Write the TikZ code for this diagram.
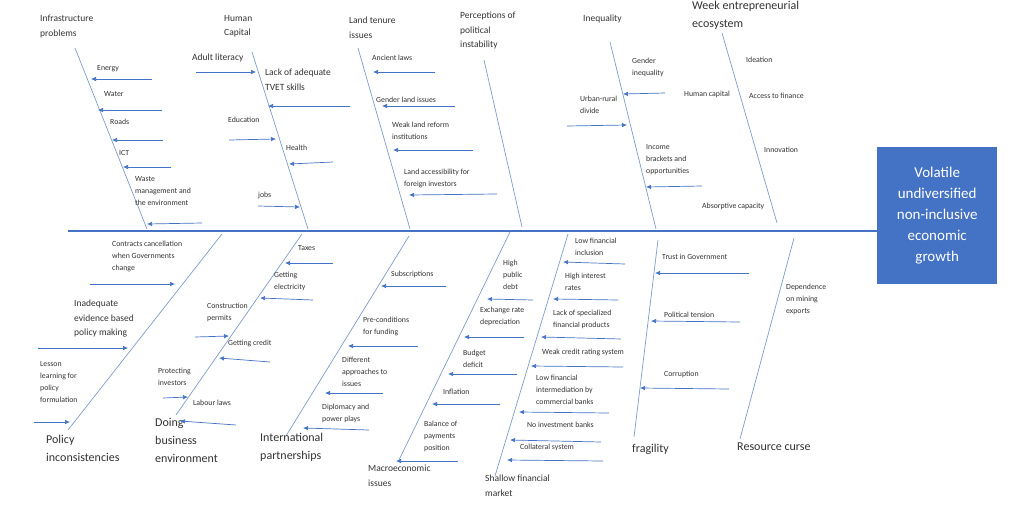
\documentclass[tikz,border=0pt]{standalone}
\usepackage{fontspec}
\setmainfont{Carlito}
\usetikzlibrary{arrows.meta}
\definecolor{bl}{HTML}{4472C4}
\definecolor{bone}{HTML}{7F9CCB}
\definecolor{tx}{HTML}{333333}
\newcommand\arr[3]{\coordinate (#1s) at #2; \coordinate (#1e) at #3; \draw[sub] (#1s) -- (#1e);}
\newcommand\bn[3]{\coordinate (#1a) at #2; \coordinate (#1b) at #3; \draw[bonel] (#1a) -- (#1b);}
\begin{document}
\begin{tikzpicture}[x=1pt,y=-1pt,
  sub/.style={draw=bl,line width=0.7pt,-{Latex[length=5pt,width=4.5pt]}},
  bonel/.style={draw=bone,line width=0.7pt},
  s/.style={anchor=north west,font=\fontsize{7.8}{12}\selectfont,text=tx,inner sep=0,align=left},
  m/.style={anchor=north west,font=\fontsize{9.5}{14.5}\selectfont,text=tx,inner sep=0,align=left},
  L/.style={anchor=north west,font=\fontsize{12}{18}\selectfont,text=tx,inner sep=0,align=left}]
\useasboundingbox[fill=white] (0,0) rectangle (1024,514);
% spine and box
\node[fill=bl,minimum width=120pt,minimum height=137pt,anchor=north west,inner sep=0,text=white,align=center,font=\fontsize{15}{21}\selectfont] (eff) at (877,147) {Volatile\\undiversified\\non-inclusive\\economic\\growth};
\coordinate (sp) at (68,231);
\draw[bl,line width=2.5pt] (sp) -- (eff.west|-sp);
% 1 Infrastructure
\bn{b1}{(75,48)}{(147,229)}
\node[m] (c1) at (40,15) {Infrastructure\\problems};
\node[s] (t11) at (97,65) {Energy}; \arr{a11}{(152,79)}{(91,79)}
\node[s] (t12) at (104,91) {Water}; \arr{a12}{(162,110)}{(98,110)}
\node[s] (t13) at (110,119) {Roads}; \arr{a13}{(163,140)}{(112,140)}
\node[s] (t14) at (119,150) {ICT}; \arr{a14}{(171,167)}{(123,167)}
\node[s] (t15) at (135,176) {Waste\\management and\\the environment}; \arr{a15}{(202,223)}{(147,224)}
% 2 Human capital
\bn{b2}{(252,52)}{(308,229)}
\node[m] (c2) at (224,15) {Human\\Capital};
\node[m] (t21) at (192,54) {Adult literacy}; \arr{a21}{(196,72)}{(256,72)}
\node[m] (t22) at (265,69) {Lack of adequate\\TVET skills}; \arr{a22}{(350,106)}{(268,106)}
\node[s] (t23) at (228,117) {Education}; \arr{a23}{(229,140)}{(276,139)}
\node[s] (t24) at (286,145) {Health}; \arr{a24}{(333,162)}{(289,164)}
\node[s] (t25) at (258,192) {jobs}; \arr{a25}{(258,206)}{(300,207)}
% 3 Land tenure
\bn{b3}{(358,48)}{(410,229)}
\node[m] (c3) at (349,17) {Land tenure\\issues};
\node[s] (t31) at (372,55) {Ancient laws}; \arr{a31}{(435,72)}{(373,72)}
\node[s] (t32) at (376,97) {Gender land issues}; \arr{a32}{(455,106)}{(382,106)}
\node[s] (t33) at (392,122) {Weak land reform\\institutions}; \arr{a33}{(473,150)}{(393,150)}
\node[s] (t34) at (404,169) {Land accessibility for\\foreign investors}; \arr{a34}{(497,194)}{(409,195)}
% 4 Perceptions
\bn{b4}{(484,60)}{(522,227)}
\node[m] (c4) at (460,12) {Perceptions of\\political\\instability};
% 5 Inequality
\bn{b5}{(610,42)}{(656,229)}
\node[m] (c5) at (583,15) {Inequality};
\node[s] (t51) at (632,58) {Gender\\inequality}; \arr{a51}{(665,93)}{(623,94)}
\node[s] (t52) at (580,96) {Urban-rural\\divide}; \arr{a52}{(567,126)}{(627,125)}
\node[s] (t53) at (646,144) {Income\\brackets and\\opportunities}; \arr{a53}{(702,186)}{(646,187)}
% 6 Entrepreneurial
\bn{b6}{(722,33)}{(777,223)}
\node[L] (c6) at (692,1) {Week entrepreneurial\\ecosystem};
\node[s] (t61) at (746,57) {Ideation};
\node[s] (t62) at (684,91) {Human capital};
\node[s] (t63) at (749,93) {Access to finance};
\node[s] (t64) at (764,147) {Innovation};
\node[s] (t65) at (702,203) {Absorptive capacity};
% 7 Policy
\bn{b7}{(222,234)}{(68,430)}
\node[L] (c7) at (46,435) {Policy\\inconsistencies};
\node[s] (t71) at (112,241) {Contracts cancellation\\when Governments\\change}; \arr{a71}{(90,284)}{(175,284)}
\node[m] (t72) at (74,300) {Inadequate\\evidence based\\policy making}; \arr{a72}{(38,348)}{(128,348)}
\node[s] (t73) at (40,361) {Lesson\\learning for\\policy\\formulation}; \arr{a73}{(34,422)}{(70,422)}
% 8 Doing business
\bn{b8}{(302,234)}{(176,415)}
\node[L] (c8) at (155,418) {Doing\\business\\environment};
\node[s] (t81) at (298,245) {Taxes}; \arr{a81}{(333,263)}{(285,263)}
\node[s] (t82) at (274,272) {Getting\\electricity}; \arr{a82}{(313,300)}{(260,298)}
\node[s] (t83) at (207,303) {Construction\\permits}; \arr{a83}{(195,337)}{(229,336)}
\node[s] (t84) at (228,340) {Getting credit}; \arr{a84}{(270,362)}{(219,358)}
\node[s] (t85) at (158,368) {Protecting\\investors}; \arr{a85}{(163,398)}{(188,397)}
\node[s] (t86) at (193,400) {Labour laws}; \arr{a86}{(236,425)}{(180,421)}
% 9 International
\bn{b9}{(409,236)}{(286,436)}
\node[L] (c9) at (260,433) {International\\partnerships};
\node[s] (t91) at (391,271) {Subscriptions}; \arr{a91}{(446,286)}{(381,286)}
\node[s] (t92) at (363,317) {Pre-conditions\\for funding}; \arr{a92}{(418,346)}{(348,346)}
\node[s] (t93) at (342,357) {Different\\approaches to\\issues}; \arr{a93}{(383,393)}{(325,393)}
\node[s] (t94) at (322,404) {Diplomacy and\\power plays}; \arr{a94}{(369,430)}{(303,428)}
% 10 Macro
\bn{b10}{(510,232)}{(398,462)}
\node[m] (c10) at (368,465) {Macroeconomic\\issues};
\node[s] (t101) at (503,260) {High\\public\\debt}; \arr{a101}{(533,300)}{(487,299)}
\node[s] (t102) at (480,307) {Exchange rate\\depreciation}; \arr{a102}{(524,337)}{(464,337)}
\node[s] (t103) at (463,350) {Budget\\deficit}; \arr{a103}{(517,374)}{(448,374)}
\node[s] (t104) at (443,389) {Inflation}; \arr{a104}{(500,404)}{(432,404)}
\node[s] (t105) at (424,421) {Balance of\\payments\\position}; \arr{a105}{(458,461)}{(396,461)}
% 11 Shallow
\bn{b11}{(568,234)}{(495,476)}
\node[m] (c11) at (485,475) {Shallow financial\\market};
\node[s] (t111) at (575,238) {Low financial\\inclusion}; \arr{a111}{(625,264)}{(563,262)}
\node[s] (t112) at (565,273) {High interest\\rates}; \arr{a112}{(618,300)}{(553,299)}
\node[s] (t113) at (553,310) {Lack of specialized\\financial products}; \arr{a113}{(621,339)}{(541,337)}
\node[s] (t114) at (542,349) {Weak credit rating system}; \arr{a114}{(623,367)}{(531,366)}
\node[s] (t115) at (536,375) {Low financial\\intermediation by\\commercial banks}; \arr{a115}{(609,413)}{(519,412)}
\node[s] (t116) at (527,422) {No investment banks}; \arr{a116}{(601,442)}{(510,440)}
\node[s] (t117) at (520,444) {Collateral system}; \arr{a117}{(603,461)}{(507,460)}
% 12 fragility
\bn{b12}{(658,240)}{(634,437)}
\node[L] (c12) at (632,444) {fragility};
\node[s] (t121) at (662,254) {Trust in Government}; \arr{a121}{(749,273)}{(655,273)}
\node[s] (t122) at (664,312) {Political tension}; \arr{a122}{(740,322)}{(651,321)}
\node[s] (t123) at (664,371) {Corruption}; \arr{a123}{(729,389)}{(640,388)}
% 13 Resource curse
\bn{b13}{(794,238)}{(740,439)}
\node[L] (c13) at (737,443) {Resource curse};
\node[s] (t131) at (786,284) {Dependence\\on mining\\exports};
\end{tikzpicture}
\end{document}
